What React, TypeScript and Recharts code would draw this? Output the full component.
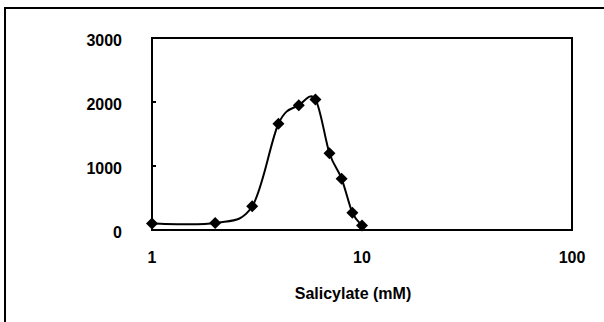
import React from "react";
import {
  LineChart,
  Line,
  XAxis,
  YAxis,
  ReferenceArea,
} from "recharts";

const concentrations = [1, 2, 3, 4, 5, 6, 7, 8, 9, 10];
const activity = [100, 110, 370, 1660, 1950, 2040, 1200, 800, 270, 70];
const xTicks = [1, 10, 100];
const yTicks = [0, 1000, 2000, 3000];
const xTitle = "Salicylate (mM)";

const FONT = "'Liberation Sans', Arial, sans-serif";

const data = concentrations.map((c, i) => ({ conc: c, value: activity[i] }));

// Excel-like smoothed line (Catmull-Rom through the points)
function smoothCurve(context: any) {
  let pts: number[][] = [];
  return {
    areaStart() {},
    areaEnd() {},
    lineStart() {
      pts = [];
    },
    lineEnd() {
      if (!pts.length) return;
      context.moveTo(pts[0][0], pts[0][1]);
      for (let i = 0; i < pts.length - 1; i++) {
        const p0 = pts[i - 1] || pts[i];
        const p1 = pts[i];
        const p2 = pts[i + 1];
        const p3 = pts[i + 2] || p2;
        context.bezierCurveTo(
          p1[0] + (p2[0] - p0[0]) / 6,
          p1[1] + (p2[1] - p0[1]) / 6,
          p2[0] - (p3[0] - p1[0]) / 6,
          p2[1] - (p3[1] - p1[1]) / 6,
          p2[0],
          p2[1]
        );
      }
    },
    point(x: number, y: number) {
      pts.push([+x, +y]);
    },
  };
}

function Diamond(props: any) {
  const { cx, cy } = props;
  if (cx == null || cy == null) return null;
  return (
    <polygon
      points={`${cx},${cy - 6} ${cx + 6},${cy} ${cx},${cy + 6} ${cx - 6},${cy}`}
      fill="#000"
    />
  );
}

function YTick({ x, y, payload }: any) {
  return (
    <g>
      <line x1={x + 30} x2={x + 34} y1={y} y2={y} stroke="#000" strokeWidth={2} />
      <text
        x={x}
        y={y}
        dy={8}
        textAnchor="end"
        fontSize={16}
        fontWeight="bold"
        fontFamily={FONT}
        fill="#000"
      >
        {payload.value}
      </text>
    </g>
  );
}

function XTick({ x, y, payload }: any) {
  return (
    <text
      x={x}
      y={y}
      dy={6}
      textAnchor="middle"
      fontSize={16}
      fontWeight="bold"
      fontFamily={FONT}
      fill="#000"
    >
      {payload.value}
    </text>
  );
}

export default function App() {
  return (
    <div
      style={{
        position: "absolute",
        left: 0,
        top: 0,
        width: 604,
        height: 322,
        overflow: "hidden",
        background: "#fff",
      }}
    >
      <div
        style={{
          position: "absolute",
          left: 4,
          top: 7,
          width: 700,
          height: 400,
          border: "2px solid #000",
        }}
      />
      <div style={{ position: "absolute", left: 0, top: 0 }}>
        <LineChart
          width={604}
          height={322}
          data={data}
          margin={{ top: 38, right: 32, bottom: 52, left: 92 }}
        >
          <XAxis
            dataKey="conc"
            type="number"
            scale="log"
            domain={[1, 100]}
            ticks={xTicks}
            axisLine={false}
            tickLine={false}
            tickSize={0}
            tickMargin={27}
            tick={<XTick />}
            height={40}
            label={({ viewBox }: any) => (
              <text
                x={viewBox.x + viewBox.width / 2 - 9}
                y={viewBox.y + 69}
                textAnchor="middle"
                fontSize={16}
                fontWeight="bold"
                fontFamily={FONT}
                fill="#000"
              >
                {xTitle}
              </text>
            )}
          />
          <YAxis
            type="number"
            domain={[0, 3000]}
            ticks={yTicks}
            axisLine={false}
            tickLine={false}
            tickSize={0}
            tickMargin={30}
            tick={<YTick />}
            width={60}
          />
          <ReferenceArea
            x1={1}
            x2={100}
            y1={0}
            y2={3000}
            fill="none"
            fillOpacity={0}
            stroke="#000"
            strokeWidth={2}
          />
          <Line
            dataKey="value"
            type={smoothCurve as any}
            stroke="#000"
            strokeWidth={2}
            dot={<Diamond />}
            activeDot={false}
            isAnimationActive={false}
          />
        </LineChart>
      </div>
    </div>
  );
}
